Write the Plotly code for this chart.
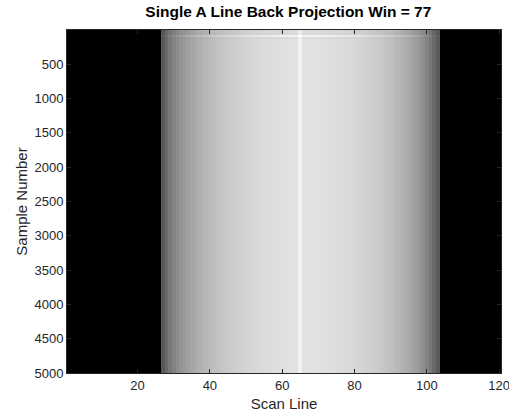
import plotly.graph_objects as go

# Scan lines (columns) and sample-number band edges (rows)
n_lines = 120
n_samples = 5000
scan_lines = list(range(1, n_lines + 1))

# First and last scan line covered by the back-projection window
win_first = 27
win_last = 103

# Gray level (0-255) of each scan line inside the window, lines 27..103
window_gray = [
    88, 105, 120, 131, 140, 148, 154, 160, 165, 170,
    175, 179, 183, 187, 190, 193, 196, 199, 201, 204,
    206, 208, 210, 212, 214, 215, 217, 218, 219, 220,
    221, 222, 223, 224, 224, 225, 225, 226, 242, 226,
    226, 225, 225, 225, 224, 224, 223, 222, 221, 220,
    219, 218, 217, 215, 214, 212, 210, 208, 206, 204,
    201, 198, 195, 192, 188, 184, 180, 175, 170, 164,
    158, 150, 142, 132, 120, 105, 90,
]

# Sample bands: edges and relative brightness of each band
band_edges = [0.5, 80, 105, 135, n_samples + 0.5]
band_gain = [0.97, 1.07, 0.98, 1.0]

# Per-line gray values over the full scan range
line_gray = [0] * n_lines
for i, g in enumerate(window_gray):
    line_gray[win_first - 1 + i] = g

z = [[min(255, g * gain) for g in line_gray] for gain in band_gain]

fig = go.Figure(
    go.Heatmap(
        x=scan_lines,
        y=band_edges,
        z=z,
        zmin=0,
        zmax=255,
        colorscale=[[0, "rgb(0,0,0)"], [1, "rgb(255,255,255)"]],
        showscale=False,
        hoverinfo="skip",
    )
)

axis_color = "#262626"
font_family = "Liberation Sans, Arial, sans-serif"

fig.update_layout(
    width=509,
    height=417,
    margin=dict(l=67, r=8, t=30, b=44, autoexpand=False),
    paper_bgcolor="white",
    plot_bgcolor="white",
    font=dict(family=font_family, color=axis_color, size=13),
    title=dict(
        text="<b>Single A Line Back Projection Win = 77</b>",
        x=0.51,
        xref="paper",
        xanchor="center",
        y=1 - 12 / 417,
        yanchor="middle",
        font=dict(size=15.5, color="black", family=font_family),
    ),
    xaxis=dict(
        range=[0.5, n_lines + 0.5],
        tickvals=[20, 40, 60, 80, 100, 120],
        ticks="inside",
        ticklen=4,
        tickcolor=axis_color,
        ticklabeloverflow="allow",
        automargin=False,
        showline=True,
        linecolor=axis_color,
        linewidth=1,
        mirror="ticks",
        showgrid=False,
        zeroline=False,
        title=dict(text="Scan Line", font=dict(size=15), standoff=6),
    ),
    yaxis=dict(
        range=[n_samples + 0.5, 0.5],
        tickvals=[500, 1000, 1500, 2000, 2500, 3000, 3500, 4000, 4500, 5000],
        ticks="inside",
        ticklen=4,
        tickcolor=axis_color,
        ticklabeloverflow="allow",
        automargin=False,
        showline=True,
        linecolor=axis_color,
        linewidth=1,
        mirror="ticks",
        showgrid=False,
        zeroline=False,
        title=dict(text="Sample Number", font=dict(size=15), standoff=3),
    ),
)

fig.write_html("out.html")
